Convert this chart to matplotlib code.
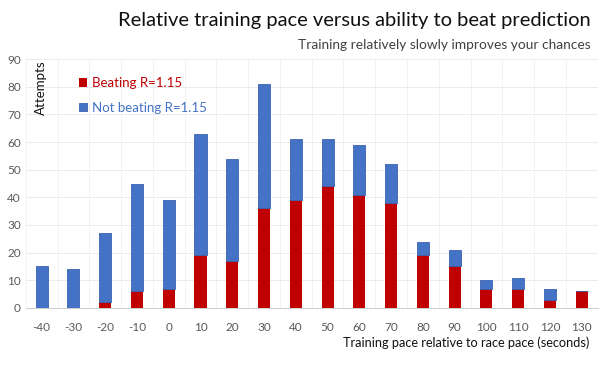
import matplotlib.pyplot as plt
import numpy as np

plt.rcParams['font.family'] = ['Lato', 'DejaVu Sans']

pace = ['-40', '-30', '-20', '-10', '0', '10', '20', '30', '40', '50',
        '60', '70', '80', '90', '100', '110', '120', '130']
beating = [0, 0, 2, 6, 7, 19, 17, 36, 39, 44, 41, 38, 19, 15, 7, 7, 3, 6]
total = [15, 14, 27, 45, 39, 63, 54, 81, 61, 61, 59, 52, 24, 21, 10, 11, 7, 6]
not_beating = [t - b for t, b in zip(total, beating)]

red = '#C00000'
blue = '#4472C4'

fig = plt.figure(figsize=(6, 3.67), dpi=100)
ax = fig.add_axes([0.043, 0.161, 0.953, 0.678])

x = np.arange(len(pace))
b1 = ax.bar(x, beating, width=0.38, color=red, label='Beating R=1.15', zorder=3)
b2 = ax.bar(x, not_beating, width=0.38, bottom=beating, color=blue,
            edgecolor='#3B63B0', linewidth=0.6, label='Not beating R=1.15', zorder=3)

ax.set_xlim(-0.5, len(pace) - 0.5)
ax.set_ylim(0, 90)
ax.set_yticks(range(0, 91, 10))
ax.set_xticks(x)
ax.set_xticklabels(pace)
ax.set_xticks(np.arange(-0.5, len(pace), 1), minor=True)
ax.grid(axis='y', color='#EBEBEB', linewidth=0.7, zorder=0)
ax.grid(axis='x', which='minor', color='#F2F2F2', linewidth=0.7, zorder=0)
ax.tick_params(axis='both', which='both', length=0, labelsize=8.5, colors='#595959')
ax.tick_params(axis='x', pad=10)
for s in ['top', 'right', 'left']:
    ax.spines[s].set_visible(False)
ax.spines['bottom'].set_color('#D0D0D0')

ax.text(0.026, 0.995, 'Attempts', transform=ax.transAxes, rotation=90,
        ha='center', va='top', fontsize=9.5, color='#111111')

leg = ax.legend(loc='upper left', bbox_to_anchor=(0.072, 0.975), frameon=False,
                fontsize=9.5, handlelength=0.6, handleheight=0.6, handletextpad=0.4,
                labelspacing=0.95)
for t, c in zip(leg.get_texts(), [red, blue]):
    t.set_color(c)

fig.text(0.985, 0.922, 'Relative training pace versus ability to beat prediction',
         ha='right', va='bottom', fontsize=14.5, color='#111111')
fig.text(0.985, 0.86, 'Training relatively slowly improves your chances',
         ha='right', va='bottom', fontsize=9.9, color='#404040')
fig.text(0.983, 0.05, 'Training pace relative to race pace (seconds)',
         ha='right', va='bottom', fontsize=9.2, color='#111111')

plt.savefig('out.png', dpi=100)
